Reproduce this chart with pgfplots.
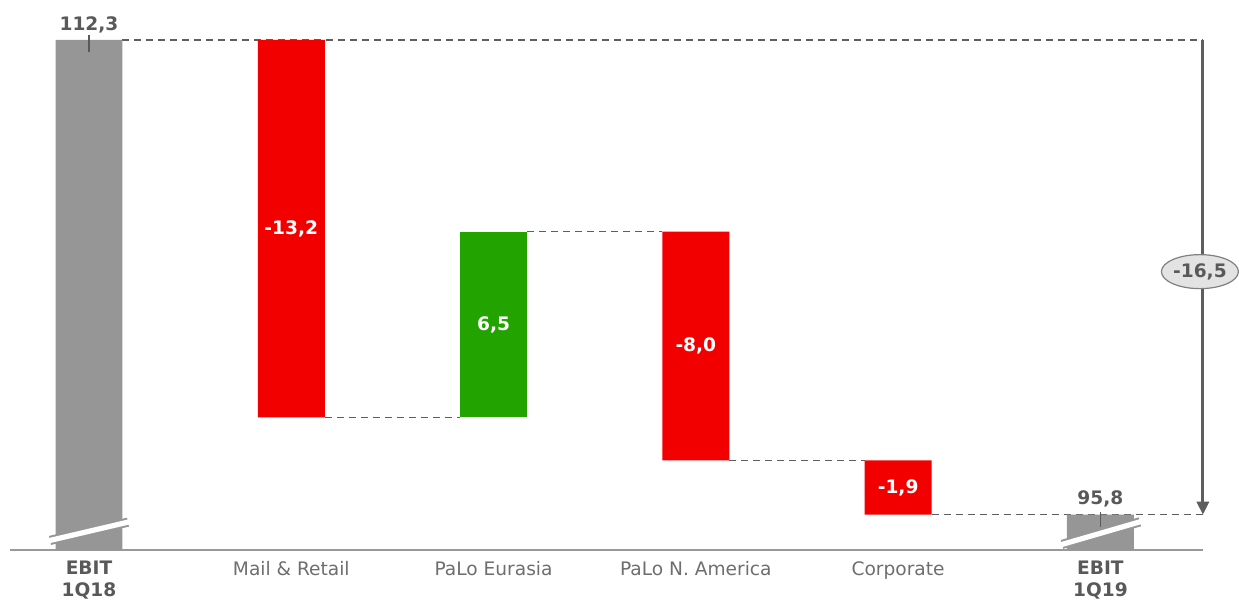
\documentclass[border=0pt]{standalone}
\usepackage{pgfplots}
\pgfplotsset{compat=1.18}
\usepackage{fontspec}
\setmainfont{DejaVu Sans}
\usetikzlibrary{arrows.meta,shapes.geometric}
\definecolor{barGray}{HTML}{969696}
\definecolor{barRed}{HTML}{F20000}
\definecolor{barGreen}{HTML}{22A300}
\definecolor{txtDark}{HTML}{595959}
\definecolor{txtGray}{HTML}{6E6E6E}
\definecolor{lineGray}{HTML}{5E5E5E}
\tikzset{conn/.style={lineGray, line width=0.6pt, dash pattern=on 3.5pt off 2.5pt},
  vlab/.style={font=\fontsize{9.3}{11}\selectfont\bfseries}}
\begin{document}
\begin{tikzpicture}
\begin{axis}[
  scale only axis,
  width=596.5pt, height=275pt,
  xmin=-0.3905, xmax=5.5067,
  ymin=94.468, ymax=113.699,
  clip=false,
  axis x line=bottom, axis y line=none,
  x axis line style={draw=gray!80, line width=0.75pt, -},
  xtick={0,1,2,3,4,5},
  xticklabels={{\textcolor{txtDark}{\textbf{EBIT}}\\\textcolor{txtDark}{\textbf{1Q18}}},Mail \& Retail,PaLo Eurasia,PaLo N. America,Corporate,{\textcolor{txtDark}{\textbf{EBIT}}\\\textcolor{txtDark}{\textbf{1Q19}}}},
  major tick length=0pt,
  xticklabel style={align=center, anchor=north, inner sep=0pt, yshift=-5.5pt, text=txtGray, font=\fontsize{9.3}{11}\selectfont},
  ybar stacked, bar width=33.5pt,
  ytick=\empty,
]
% invisible base (totals start at the axis break, 94.468)
\addplot[draw=none, fill=none] coordinates {(0,94.468) (1,99.1) (2,99.1) (3,97.6) (4,95.7) (5,94.468)};
% totals: 112.3 and 95.8 (drawn from the broken axis base)
\addplot[draw=none, fill=barGray] coordinates {(0,17.832) (1,0) (2,0) (3,0) (4,0) (5,1.232)};
% decreases
\addplot[draw=none, fill=barRed] coordinates {(0,0) (1,13.2) (2,0) (3,8.0) (4,1.9) (5,0)};
% increases
\addplot[draw=none, fill=barGreen] coordinates {(0,0) (1,0) (2,6.5) (3,0) (4,0) (5,0)};

% bounding box
\path (axis cs:-0.44,92.685) rectangle (axis cs:5.685,113.699);

% connectors (behind the bars)
\draw[conn] (axis cs:0.1656,112.3) -- (axis cs:5.5067,112.3);
\draw[conn] (axis cs:1.1656,99.1) -- (axis cs:1.8344,99.1);
\draw[conn] (axis cs:2.1656,105.6) -- (axis cs:2.8344,105.6);
\draw[conn] (axis cs:3.1656,97.6) -- (axis cs:3.8344,97.6);
\draw[conn] (axis cs:4.1656,95.7) -- (axis cs:5.5067,95.7);

% anchor points for the foreground decorations
\coordinate (b1a) at (axis cs:-0.1928,94.80);
\coordinate (b1b) at (axis cs:0.1928,95.44);
\coordinate (b2a) at (axis cs:4.810,94.66);
\coordinate (b2b) at (axis cs:5.195,95.45);
\coordinate (t1a) at (axis cs:0,112.47);
\coordinate (t1b) at (axis cs:0,111.88);
\coordinate (t2a) at (axis cs:5,95.80);
\coordinate (t2b) at (axis cs:5,95.27);
\coordinate (l0) at (axis cs:0,112.82);
\coordinate (l5) at (axis cs:5,96.25);
\coordinate (l1) at (axis cs:1,105.7);
\coordinate (l2) at (axis cs:2,102.35);
\coordinate (l3) at (axis cs:3,101.6);
\coordinate (l4) at (axis cs:4,96.65);
\coordinate (arA) at (axis cs:5.5067,112.3);
\coordinate (arB) at (axis cs:5.5067,95.7);
\coordinate (ell) at (axis cs:5.492,104.2);
\end{axis}

% break marks
\draw[draw=barGray, line width=4.6pt] (b1a) -- (b1b);
\draw[draw=white, line width=2.6pt, shorten <=-0.5pt, shorten >=-0.5pt] (b1a) -- (b1b);
\draw[draw=barGray, line width=4.6pt] (b2a) -- (b2b);
\draw[draw=white, line width=2.6pt, shorten <=-0.5pt, shorten >=-0.5pt] (b2a) -- (b2b);

% small ticks on totals
\draw[draw=txtDark, line width=0.7pt] (t1a) -- (t1b);
\draw[draw=txtDark, line width=0.7pt] (t2a) -- (t2b);

% value labels
\node[vlab, text=txtDark] at (l0) {112,3};
\node[vlab, text=txtDark] at (l5) {95,8};
\node[vlab, text=white] at (l1) {-13,2};
\node[vlab, text=white] at (l2) {6,5};
\node[vlab, text=white] at (l3) {-8,0};
\node[vlab, text=white] at (l4) {-1,9};

% total change arrow
\draw[draw=lineGray, line width=1.5pt, -{Triangle[length=6.5pt,width=6pt]}] (arA) -- (arB);
\node[vlab, ellipse, draw=gray, fill=gray!22, line width=0.6pt, minimum width=38.5pt, minimum height=17pt, inner sep=0pt, text=txtDark] at (ell) {-16,5};
\end{tikzpicture}
\end{document}
